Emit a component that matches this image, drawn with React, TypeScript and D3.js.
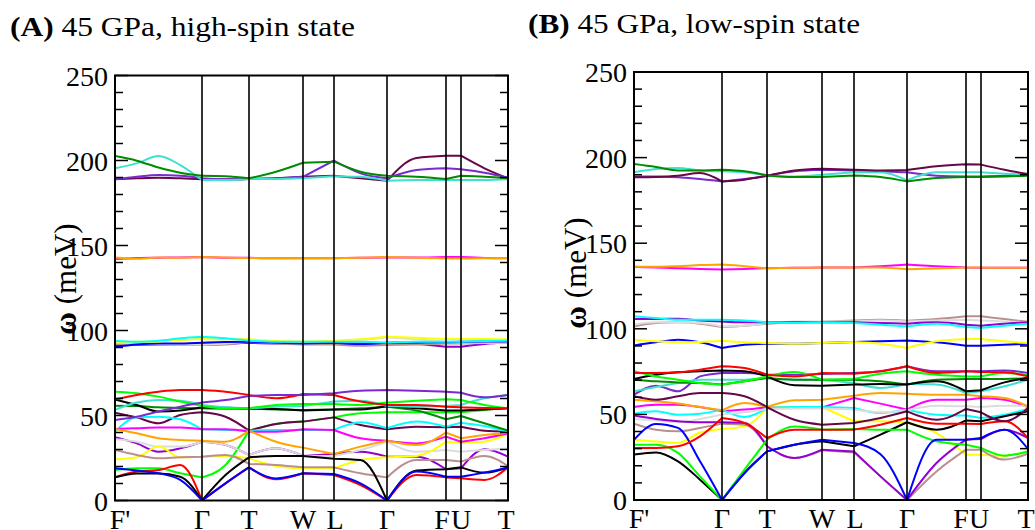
import React from 'react';
import * as d3 from 'd3';

// ---------- k-path ----------
const kLabels = ["F'", 'Γ', 'T', 'W', 'L', 'Γ', 'F', 'U', 'T'];
const kTicksA = [0, 87, 134, 188, 219, 272, 331, 346, 393];
const kTicksB = [0, 88, 133, 188, 220, 273, 332, 347, 394];
// sample positions expressed in units of path segments
const kSamples = [0, 0.25, 0.5, 0.75, 1, 1.5, 2, 2.5, 3, 4, 4.5, 5, 5.5, 6, 7, 7.5, 8];
const segStart = [0, 4, 6, 8, 9, 11, 13, 14, 16];
const yTicks = [0, 50, 100, 150, 200, 250];

const C = {
  black: '#000000', red: '#ff0000', green: '#00ff00', blue: '#0000ff', yellow: '#ffff00',
  brown: '#bc8f8f', grey: '#dcdcdc', violet: '#9400d3', cyan: '#00ffff', magenta: '#ff00ff',
  orange: '#ffa500', indigo: '#7a2ad0', maroon: '#670748', turquoise: '#40e0d0', green4: '#008b00',
};

// ---------- Panel A : 45 GPa, high-spin (meV) ----------
const aGreenLo = [17.9, 18.9, 18.9, 16.0, 13.6, 20.9, 41.1, 45.0, 46.4, 48.9, 51.3, 51.9, 51.9, 51.9, 51.9, 53.3, 54.2];
const aMaroonLo = [51.7, 48.9, 45.4, 50.3, 51.9, 49.3, 41.1, 45.0, 46.4, 48.9, 44.4, 41.9, 43.4, 43.1, 43.4, 41.1, 40.5];
const aVioletLo = [37.2, 33.6, 28.7, 30.7, 34.6, 32.7, 26.8, 30.7, 26.2, 27.4, 28.7, 25.8, 25.8, 18.4, 18.9, 30.1, 25.8];
const aGreyLo = [36.0, 34.6, 31.7, 31.7, 34.6, 32.7, 26.8, 30.7, 26.2, 26.2, 29.7, 34.6, 28.7, 29.7, 28.7, 29.7, 30.7];
const aYellowLo = [24.2, 25.4, 31.7, 25.4, 25.8, 26.2, 24.8, 20.3, 18.9, 18.9, 23.8, 25.4, 26.2, 34.6, 34.0, 34.6, 39.1];
const aBrownLo = [29.7, 26.8, 24.8, 25.4, 25.8, 26.8, 21.5, 20.9, 19.5, 19.5, 16.0, 13.6, 23.8, 23.8, 22.9, 26.2, 20.3];
const aRedLo = [13.6, 17.0, 17.9, 20.9, 0, 10.1, 19.5, 12.5, 16.0, 15.0, 9.1, 0, 15.0, 13.6, 13.1, 12.1, 19.5];
const aBlackLo = [13.6, 15.9, 15.9, 14.0, 0, 15.0, 25.4, 26.2, 26.2, 24.6, 23.8, 0, 17.6, 18.4, 19.5, 16.4, 19.5];
const aBlueLo = [18.9, 17.6, 16.0, 12.1, 0, 10.1, 19.5, 13.0, 16.0, 15.6, 10.1, 0, 17.0, 14.0, 14.0, 16.4, 19.5];
const aCyanLo = [40.5, 48.9, 49.3, 47.8, 41.9, 41.5, 41.1, 41.5, 41.5, 41.5, 46.0, 42.5, 46.4, 43.4, 45.8, 43.8, 40.5];
const aMagentaLo = [42.1, 42.5, 42.9, 42.9, 41.9, 41.9, 40.5, 40.5, 41.9, 41.5, 36.6, 35.2, 33.6, 37.6, 34.6, 36.6, 39.5];
const aOrangeLo = [42.1, 39.5, 36.6, 35.6, 35.2, 34.6, 41.1, 34.6, 31.1, 27.4, 31.7, 35.2, 32.7, 39.9, 36.6, 38.5, 39.9];
const aGreen4Lo = [55.8, 55.6, 54.8, 54.4, 54.2, 54.0, 54.0, 53.6, 53.3, 53.6, 54.2, 55.2, 52.9, 47.8, 49.7, 45.4, 41.1];
const aBlackHi = [59.5, 56.2, 52.3, 52.9, 54.8, 54.6, 54.2, 53.8, 52.9, 53.6, 53.6, 55.6, 54.2, 52.9, 52.9, 53.6, 54.2];
const aTurqLo = [53.3, 57.6, 59.1, 58.7, 56.2, 54.8, 54.2, 55.2, 55.6, 58.2, 58.7, 55.6, 55.2, 55.6, 56.2, 60.1, 62.1];
const aGreenHi = [64.0, 63.1, 61.1, 58.2, 55.6, 54.2, 54.2, 56.2, 56.8, 56.8, 56.2, 57.6, 58.7, 59.5, 59.1, 56.2, 54.2];
const aRedHi = [59.5, 62.1, 64.0, 65.0, 65.0, 64.0, 62.1, 60.1, 62.7, 62.1, 58.2, 56.2, 56.2, 55.2, 54.8, 54.4, 54.2];
const aIndigoLo = [47.4, 49.3, 52.3, 55.2, 57.6, 59.1, 61.5, 62.1, 62.1, 63.1, 64.6, 65.0, 64.6, 64.0, 63.4, 60.7, 62.1];
const aVioletMid = [91.4, 91.6, 91.8, 91.8, 92.0, 92.2, 92.8, 92.4, 92.4, 92.4, 92.4, 92.4, 92.0, 90.4, 90.4, 92.0, 93.2];
const aBrownMid = [92.0, 92.0, 91.8, 91.4, 91.4, 91.8, 93.4, 92.4, 91.8, 91.8, 91.0, 91.4, 91.8, 92.4, 92.4, 92.6, 92.8];
const aGreyMid = [92.8, 92.4, 92.0, 91.8, 91.8, 92.4, 93.8, 92.8, 92.4, 92.8, 94.4, 95.9, 94.8, 93.4, 93.0, 92.8, 93.0];
const aBlueMid = [90.4, 91.8, 92.4, 92.4, 92.8, 93.2, 93.4, 92.8, 92.4, 92.8, 92.0, 92.8, 93.0, 93.2, 93.4, 93.6, 93.6];
const aYellowMid = [93.4, 93.4, 93.6, 94.4, 95.0, 94.8, 94.8, 93.8, 93.4, 94.0, 94.8, 96.3, 95.7, 95.0, 95.0, 95.0, 94.8];
const aCyanMid = [94.0, 93.4, 94.0, 95.4, 96.3, 95.4, 94.0, 93.4, 93.4, 93.4, 93.4, 92.8, 93.4, 93.4, 93.4, 93.8, 94.0];
const aMagentaHi = [142.0, 142.6, 142.8, 143.0, 143.2, 142.8, 142.8, 142.5, 142.5, 142.5, 142.8, 143.0, 142.9, 143.2, 143.2, 142.7, 142.5];
const aOrangeHi = [143.0, 142.2, 142.9, 142.8, 143.2, 143.0, 142.6, 142.5, 142.5, 142.5, 142.8, 143.2, 142.8, 142.3, 142.3, 142.5, 142.6];
const aMaroonTop = [188.9, 189.5, 189.9, 189.5, 188.9, 188.9, 189.1, 189.5, 190.4, 191.0, 189.5, 188.1, 201.5, 202.8, 202.8, 195.4, 189.5];
const aIndigoTop = [188.9, 190.4, 191.4, 191.0, 189.5, 188.9, 189.1, 189.5, 190.4, 200.0, 192.4, 189.5, 194.4, 195.4, 194.8, 192.8, 189.9];
const aTurqTop = [195.4, 198.3, 202.6, 197.3, 188.5, 188.5, 189.1, 189.1, 189.5, 190.8, 190.4, 188.1, 188.5, 188.5, 188.5, 188.5, 188.9];
const aGreen4Top = [202.6, 199.9, 195.9, 192.8, 191.0, 190.8, 189.5, 193.4, 198.7, 199.3, 193.4, 191.0, 190.4, 189.1, 191.0, 190.4, 189.5];

// ---------- Panel B : 45 GPa, low-spin (meV) ----------
const bMagentaLo = [54.3, 55.7, 55.7, 54.3, 51.8, 52.8, 54.1, 54.1, 54.1, 59.6, 56.3, 52.8, 58.6, 58.6, 59.6, 58.6, 54.3];
const bYellowLo = [35.2, 34.2, 33.3, 39.4, 41.5, 43.0, 53.7, 54.3, 54.3, 46.0, 46.0, 45.4, 39.1, 26.5, 26.5, 25.9, 28.4];
const bCyanLo = [50.4, 51.8, 49.8, 50.4, 52.8, 48.5, 53.7, 54.3, 54.3, 53.7, 50.8, 52.8, 49.8, 49.3, 47.9, 49.8, 53.2];
const bGreyLo = [47.3, 46.5, 45.4, 47.3, 49.9, 51.2, 53.2, 53.5, 53.5, 52.8, 51.2, 52.4, 55.1, 54.7, 54.3, 55.1, 55.1];
const bBrownLo = [44.6, 41.1, 40.1, 42.1, 44.6, 44.0, 31.4, 24.5, 29.0, 27.8, 13.8, 0, 16.7, 29.4, 29.4, 23.6, 27.1];
const bVioletLo = [49.3, 47.3, 46.0, 45.4, 45.4, 45.0, 31.4, 24.5, 29.4, 28.4, 13.8, 0, 21.6, 35.3, 35.6, 41.1, 36.2];
const bBlackLo = [26.5, 27.8, 22.6, 11.9, 0, 15.8, 28.4, 32.3, 34.3, 31.4, 38.2, 45.4, 41.1, 46.5, 46.0, 48.9, 51.8];
const bGreenLo = [32.3, 32.3, 27.5, 13.8, 0, 17.7, 35.2, 43.0, 41.1, 41.5, 41.1, 41.1, 34.3, 32.3, 30.4, 25.9, 28.4];
const bBlueLo = [35.2, 44.4, 42.1, 22.6, 0, 15.8, 28.4, 32.3, 35.2, 33.3, 26.7, 0, 35.2, 35.2, 36.2, 41.1, 29.8];
const bRedLo = [30.4, 30.4, 31.4, 37.2, 47.9, 45.0, 36.2, 41.1, 41.1, 41.1, 44.0, 47.9, 44.6, 44.6, 44.4, 46.0, 36.2];
const bOrangeLo = [58.6, 57.6, 56.3, 54.3, 52.4, 56.7, 54.3, 58.2, 58.6, 60.9, 62.5, 62.1, 61.5, 61.5, 60.6, 59.6, 54.7];
const bMaroonLo = [60.6, 58.6, 60.6, 62.5, 62.5, 60.6, 54.3, 46.9, 44.0, 45.0, 47.9, 51.8, 46.9, 53.2, 51.2, 46.0, 53.7];
const bIndigoLo = [61.5, 66.8, 63.5, 72.2, 74.2, 74.2, 73.2, 73.2, 73.6, 74.2, 75.2, 78.1, 75.2, 75.2, 75.2, 75.7, 74.2];
const bTurqLo = [63.5, 66.0, 68.3, 70.3, 70.3, 70.3, 71.3, 70.3, 70.3, 68.3, 65.4, 67.9, 67.4, 62.5, 63.5, 66.4, 70.3];
const bGreen4Lo = [70.3, 69.3, 68.7, 68.3, 67.4, 69.3, 71.3, 70.3, 70.3, 70.3, 69.3, 67.4, 70.3, 70.7, 70.7, 70.7, 71.3];
const bBlackHi = [70.7, 73.2, 74.6, 75.2, 75.7, 75.2, 72.2, 67.0, 66.8, 67.4, 67.8, 67.4, 69.3, 63.5, 64.1, 68.7, 71.3];
const bGreenHi = [75.2, 72.2, 70.3, 68.3, 67.4, 69.3, 72.2, 74.8, 70.3, 70.7, 73.8, 75.2, 73.2, 72.2, 72.2, 74.2, 73.2];
const bRedHi = [74.2, 74.2, 74.6, 76.1, 78.1, 77.1, 73.2, 72.2, 74.2, 73.8, 75.2, 78.1, 74.2, 75.2, 74.8, 74.6, 72.2];
const bBlueMid = [90.3, 92.1, 93.6, 92.1, 88.8, 90.7, 91.3, 91.3, 91.7, 92.3, 92.7, 93.2, 92.1, 90.1, 90.1, 90.7, 91.3];
const bYellowMid = [93.6, 92.7, 92.1, 92.3, 93.0, 92.1, 91.7, 91.3, 91.7, 92.3, 91.3, 88.8, 92.7, 94.0, 94.0, 92.7, 91.7];
const bBrownMid = [101.4, 103.4, 103.8, 103.0, 101.0, 101.8, 103.0, 103.8, 104.1, 104.9, 105.3, 104.7, 105.7, 107.3, 107.3, 105.7, 104.1];
const bGreyMid = [102.4, 103.8, 103.8, 103.4, 101.4, 101.8, 103.4, 104.3, 104.3, 104.3, 104.9, 104.3, 104.9, 105.3, 104.9, 104.3, 103.8];
const bVioletMid = [105.7, 105.7, 105.9, 104.9, 104.3, 103.8, 103.8, 103.8, 103.8, 103.8, 103.4, 103.0, 103.8, 102.4, 101.8, 103.0, 103.8];
const bCyanMid = [107.3, 106.3, 105.3, 105.3, 105.3, 104.9, 103.8, 103.4, 103.8, 103.4, 102.4, 101.4, 103.0, 101.0, 100.5, 101.8, 103.0];
const bMagentaHi = [136.2, 135.8, 135.4, 134.9, 134.6, 135.0, 135.4, 135.6, 135.8, 135.8, 136.6, 137.5, 136.6, 135.8, 135.6, 135.6, 135.6];
const bOrangeHi = [136.2, 136.2, 136.6, 137.2, 137.5, 136.6, 135.4, 135.6, 135.8, 135.8, 135.8, 134.8, 135.2, 135.8, 135.8, 135.6, 135.6];
const bIndigoTop = [189.0, 189.0, 188.5, 187.5, 186.1, 187.5, 189.4, 192.0, 192.9, 192.4, 192.0, 191.4, 189.4, 189.0, 189.0, 189.4, 190.4];
const bTurqTop = [191.4, 193.3, 193.9, 192.5, 192.0, 191.4, 189.6, 189.0, 190.0, 191.4, 191.4, 186.7, 191.4, 191.4, 191.4, 190.6, 190.0];
const bMaroonTop = [188.5, 188.7, 189.4, 191.0, 186.1, 187.1, 189.4, 192.5, 193.5, 192.9, 192.5, 192.7, 194.9, 196.1, 195.9, 192.9, 190.4];
const bGreen4Top = [196.2, 194.5, 192.5, 192.5, 192.9, 192.0, 189.6, 188.7, 188.7, 189.6, 188.7, 186.1, 188.1, 188.7, 188.7, 189.0, 189.4];

type Band = { color: string; values: number[] };

const bandsA: Band[] = [
  { color: C.green, values: aGreenLo }, { color: C.maroon, values: aMaroonLo },
  { color: C.violet, values: aVioletLo }, { color: C.grey, values: aGreyLo },
  { color: C.yellow, values: aYellowLo }, { color: C.brown, values: aBrownLo },
  { color: C.red, values: aRedLo }, { color: C.black, values: aBlackLo },
  { color: C.blue, values: aBlueLo }, { color: C.cyan, values: aCyanLo },
  { color: C.magenta, values: aMagentaLo }, { color: C.orange, values: aOrangeLo },
  { color: C.green4, values: aGreen4Lo }, { color: C.black, values: aBlackHi },
  { color: C.turquoise, values: aTurqLo }, { color: C.green, values: aGreenHi },
  { color: C.red, values: aRedHi }, { color: C.indigo, values: aIndigoLo },
  { color: C.violet, values: aVioletMid }, { color: C.brown, values: aBrownMid },
  { color: C.grey, values: aGreyMid }, { color: C.blue, values: aBlueMid },
  { color: C.yellow, values: aYellowMid }, { color: C.cyan, values: aCyanMid },
  { color: C.magenta, values: aMagentaHi }, { color: C.orange, values: aOrangeHi },
  { color: C.maroon, values: aMaroonTop }, { color: C.indigo, values: aIndigoTop },
  { color: C.turquoise, values: aTurqTop }, { color: C.green4, values: aGreen4Top },
];

const bandsB: Band[] = [
  { color: C.magenta, values: bMagentaLo }, { color: C.yellow, values: bYellowLo },
  { color: C.cyan, values: bCyanLo }, { color: C.grey, values: bGreyLo },
  { color: C.brown, values: bBrownLo }, { color: C.violet, values: bVioletLo },
  { color: C.black, values: bBlackLo }, { color: C.green, values: bGreenLo },
  { color: C.blue, values: bBlueLo }, { color: C.red, values: bRedLo },
  { color: C.orange, values: bOrangeLo }, { color: C.maroon, values: bMaroonLo },
  { color: C.indigo, values: bIndigoLo }, { color: C.turquoise, values: bTurqLo },
  { color: C.green4, values: bGreen4Lo }, { color: C.black, values: bBlackHi },
  { color: C.green, values: bGreenHi }, { color: C.red, values: bRedHi },
  { color: C.blue, values: bBlueMid }, { color: C.yellow, values: bYellowMid },
  { color: C.brown, values: bBrownMid }, { color: C.grey, values: bGreyMid },
  { color: C.violet, values: bVioletMid }, { color: C.cyan, values: bCyanMid },
  { color: C.magenta, values: bMagentaHi }, { color: C.orange, values: bOrangeHi },
  { color: C.indigo, values: bIndigoTop }, { color: C.turquoise, values: bTurqTop },
  { color: C.maroon, values: bMaroonTop }, { color: C.green4, values: bGreen4Top },
];

const SERIF = "'Liberation Serif', 'Times New Roman', serif";

type PanelProps = {
  left: number; right: number; top: number; bottom: number;
  ticks: number[]; bands: Band[];
  letter: string; title: string; titleX: number; titleY: number; titleW: number;
  ylabX: number; ylabY: number; labelShift: number[];
};

function Panel(p: PanelProps) {
  const kTotal = p.ticks[p.ticks.length - 1];
  const x = d3.scaleLinear().domain([0, kTotal]).range([p.left, p.right]);
  const y = d3.scaleLinear().domain([0, 250]).range([p.bottom, p.top]);
  const kOf = (s: number) => {
    const i = Math.min(Math.floor(s), p.ticks.length - 2);
    const f = s - i;
    return p.ticks[i] + f * (p.ticks[i + 1] - p.ticks[i]);
  };
  const xs = kSamples.map((s) => x(kOf(s)));
  const line = d3.line<[number, number]>().curve(d3.curveMonotoneX);
  const pathFor = (vals: number[]) => {
    const pts: [number, number][] = vals.map((v, i) => [xs[i], y(v)]);
    let d = '';
    for (let s = 0; s < segStart.length - 1; s++) {
      d += line(pts.slice(segStart[s], segStart[s + 1] + 1)) || '';
    }
    return d;
  };
  const minor = d3.range(0, 251, 10);
  return (
    <g>
      <text x={p.titleX} y={p.titleY} fontFamily={SERIF} fontSize={27} fill="#000"
        textLength={p.titleW} lengthAdjust="spacingAndGlyphs">
        <tspan fontWeight="bold">{p.letter}</tspan>
        <tspan>{' ' + p.title}</tspan>
      </text>
      <clipPath id={'clip' + p.left}>
        <rect x={p.left} y={p.top} width={p.right - p.left} height={p.bottom - p.top} />
      </clipPath>
      <g clipPath={`url(#clip${p.left})`}>
        {p.bands.map((b, i) => (
          <path key={i} d={pathFor(b.values)} fill="none" stroke={b.color} strokeWidth={2} strokeLinejoin="round" />
        ))}
      </g>
      {p.ticks.slice(1, -1).map((k, i) => (
        <line key={i} x1={x(k)} x2={x(k)} y1={p.top} y2={p.bottom} stroke="#000" strokeWidth={1.6} />
      ))}
      {minor.map((v) => {
        const len = v % 50 === 0 ? 13 : 8;
        return (
          <g key={v}>
            <line x1={p.left} x2={p.left + len} y1={y(v)} y2={y(v)} stroke="#000" strokeWidth={1.5} />
            <line x1={p.right} x2={p.right - len} y1={y(v)} y2={y(v)} stroke="#000" strokeWidth={1.5} />
          </g>
        );
      })}
      <rect x={p.left} y={p.top} width={p.right - p.left} height={p.bottom - p.top} fill="none" stroke="#000" strokeWidth={2} />
      {yTicks.map((v) => (
        <text key={v} x={p.left - 7} y={y(v) + 10} textAnchor="end" fontFamily={SERIF} fontSize={28} fill="#000">{v}</text>
      ))}
      {p.ticks.map((k, i) => (
        <text key={i} x={x(k) + p.labelShift[i]} y={p.bottom + 28} textAnchor="middle" fontFamily={SERIF} fontSize={28} fill="#000">{kLabels[i]}</text>
      ))}
      <text transform={`translate(${p.ylabX},${p.ylabY}) rotate(-90)`} textAnchor="middle" fontFamily={SERIF} fontSize={31} fill="#000">
        <tspan fontWeight="bold">ω</tspan>
        <tspan> (meV)</tspan>
      </text>
    </g>
  );
}

export default function App() {
  return (
    <svg width={1035} height={530} style={{ position: 'absolute', left: 0, top: 0, background: '#fff' }}>
      <rect x={0} y={0} width={1035} height={530} fill="#fff" />
      <Panel left={115} right={508} top={75.5} bottom={500.5} ticks={kTicksA} bands={bandsA}
        letter="(A)" title="45 GPa, high-spin state" titleX={10} titleY={36} titleW={345}
        ylabX={76} ylabY={279} labelShift={[5, 0, 0, 0, 1, 0, -4, 0, -2]} />
      <Panel left={634} right={1028} top={72} bottom={500} ticks={kTicksB} bands={bandsB}
        letter="(B)" title="45 GPa, low-spin state" titleX={528} titleY={33} titleW={332}
        ylabX={586} ylabY={273} labelShift={[5, 0, 0, 0, 1, 0, -5, -2, -2]} />
    </svg>
  );
}
